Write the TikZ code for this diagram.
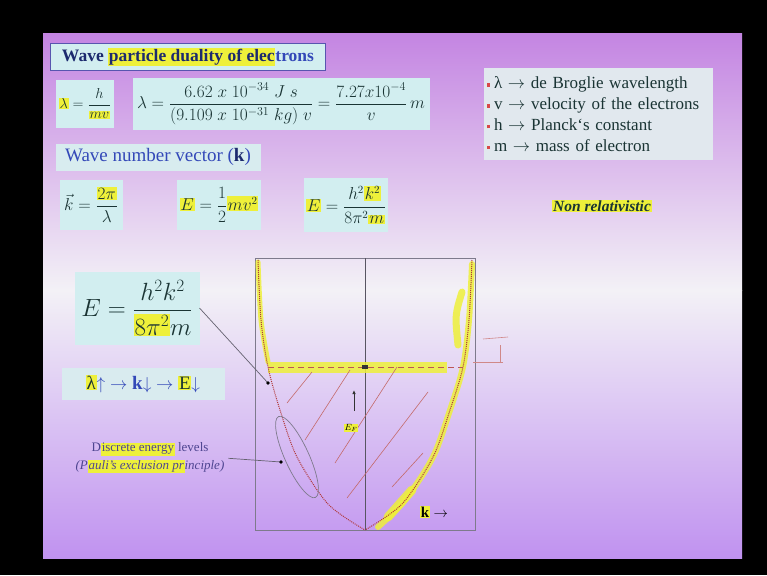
\documentclass[tikz,border=0pt]{standalone}
\usepackage{fontspec}
\setmainfont{Liberation Serif}
\usepackage{amsmath}
\usetikzlibrary{arrows.meta,positioning,calc}
\definecolor{slidetop}{HTML}{C485E2}
\definecolor{slidemid}{HTML}{F3F1F6}
\definecolor{slidebot}{HTML}{C092F0}
\definecolor{boxcyan}{HTML}{D2EEF0}
\definecolor{listgrey}{HTML}{E1E8EE}
\definecolor{navytxt}{HTML}{1C2A6E}
\definecolor{bluetxt}{HTML}{3348B8}
\definecolor{formtxt}{HTML}{1A3434}
\definecolor{hlyellow}{HTML}{EEF03A}
\definecolor{bulred}{HTML}{D84848}
\definecolor{curvered}{HTML}{B03838}
\definecolor{axisgrey}{HTML}{7E7A8C}
\newcommand\hl[1]{{\setlength{\fboxsep}{0.8pt}\colorbox{hlyellow}{#1}}}
\newcommand\bul{\textcolor{bulred}{\rule[0.25ex]{3.5pt}{3.5pt}}\hspace{4pt}}

\begin{document}
\begin{tikzpicture}[x=1pt,y=-1pt,every node/.style={inner sep=0pt,outer sep=0pt,align=center},
  box/.style={fill=boxcyan},
  curve/.style={curvered,densely dotted,line width=1pt},
  hlpen/.style={hlyellow,line cap=round,opacity=0.85},
  hatch/.style={curvered!75,line width=0.6pt},
  pointer/.style={axisgrey!80!black,line width=0.7pt}]
% slide
\fill[black] (0,0) rectangle (767,575);
\useasboundingbox (0,0) rectangle (767,575);
\shade[top color=slidetop,bottom color=slidemid] (43,34) rectangle (742,290);
\shade[top color=slidemid,bottom color=slidebot] (43,290) rectangle (742,558);
% header and formula boxes
\node[box,draw=axisgrey!70!blue,line width=1pt,minimum width=275,minimum height=27,font=\fontsize{17.5}{19}\selectfont\bfseries] (title) at (188,57)
  {\textcolor{navytxt}{Wave \hl{particle duality of elec}}\textcolor{bluetxt}{trons}};
\node[box,minimum width=58,minimum height=48,text=formtxt,font=\fontsize{15}{17}\selectfont] (lam) at (85,104)
  {$\hl{$\lambda$} = \dfrac{h}{\hl{$mv$}}$};
\node[box,minimum width=297,minimum height=52,text=formtxt,font=\fontsize{17}{19}\selectfont] (lamval) at (281,104)
  {$\lambda = \dfrac{6.62\;x\;10^{-34}\;J\;s}{(9.109\;x\;10^{-31}\;kg)\;v} = \dfrac{7.27x10^{-4}}{v}\,m$};
\node[fill=listgrey,minimum width=229,minimum height=91,text width=223,align=left,text=formtxt,font=\fontsize{17}{20.8}\selectfont] (legend) at (598,114)
  {\bul λ $\rightarrow$ de Broglie wavelength\\
   \bul v $\rightarrow$ velocity of the electrons\\
   \bul h $\rightarrow$ Planck`s constant\\
   \bul m $\rightarrow$ mass of electron};
\node[box,fill=boxcyan!60!listgrey,minimum width=205,minimum height=27,font=\fontsize{19}{21}\selectfont] (wavenum) at (158,157)
  {\textcolor{bluetxt}{Wave number vector (\textcolor{navytxt}{\textbf{k}})}};
\node[box,minimum width=63,minimum height=50,text=formtxt,font=\fontsize{16}{18}\selectfont] (kvec) at (91,205)
  {$\vec{k} = \dfrac{\hl{$2\pi$}}{\lambda}$};
\node[box,minimum width=84,minimum height=50,text=formtxt,font=\fontsize{16}{18}\selectfont] (ekin) at (219,205)
  {$\hl{$E$} = \dfrac{1}{2}\hl{$mv^2$}$};
\node[box,minimum width=84,minimum height=54,text=formtxt,font=\fontsize{16}{18}\selectfont] (ek) at (346,205)
  {$\hl{$E$} = \dfrac{h^2\hl{$k^2$}}{8\pi^2\hl{$m$}}$};
\node[font=\bfseries\itshape\fontsize{15.5}{17}\selectfont,text=formtxt] (nonrel) at (602,206) {\hl{Non relativistic}};
\node[box,minimum width=125,minimum height=73,text=formtxt,font=\fontsize{25}{28}\selectfont] (bigE) at (137,308)
  {$E = \dfrac{h^2k^2}{\hl{$8\pi^2$}m}$};
\node[box,fill=boxcyan!50!listgrey,minimum width=163,minimum height=32,font=\fontsize{19}{21}\selectfont] (chain) at (143,384)
  {\textcolor{formtxt}{\hl{λ}}\textcolor{bluetxt}{$\uparrow\;\rightarrow\;$\textbf{k}$\downarrow\;\rightarrow\;$}\textcolor{formtxt}{\hl{E}}\textcolor{bluetxt}{$\downarrow$}};
\node[font=\fontsize{13}{18}\selectfont,text=navytxt!70!slidetop] (disc) at (150,458)
  {D\hl{iscrete energy} levels\\{\itshape(P\hl{auli's exclusion pr}inciple)}};
% E(k) plot
\draw[axisgrey,line width=0.6pt] (255,258) rectangle (475,530);
\draw[axisgrey!70!black,line width=0.6pt] (365,258) -- (365,530);
\draw[hlpen,line width=5pt] plot[smooth] coordinates {(258,262) (261,320) (268,362)};
\draw[hlpen,line width=11pt,line cap=butt] (268,367) -- (447,367);
\draw[hlpen,line width=6pt] plot[smooth] coordinates {(472,264) (469,320) (463,367) (450,410) (433,457) (405,500) (378,527)};
\draw[hlpen,line width=7pt] (462,292) .. controls (455,315) .. (458,345);
\draw[hlpen,line width=9pt] (412,490) -- (388,517);
\draw[curve] plot[smooth] coordinates {(258,260) (261,320) (268,367) (280,410) (297,457) (328,504) (365,530)};
\draw[curve] plot[smooth] coordinates {(472,260) (469,320) (463,367) (450,410) (433,457) (402,504) (365,530)};
\draw[curvered!85,line width=0.8pt,dash pattern=on 6pt off 4pt] (268,367) -- (463,367);
\fill[black!80] (362,365) rectangle (368,369);
\foreach \a/\b in {{(287,403)}/{(312,372)},{(305,440)}/{(350,370)},{(335,463)}/{(397,367)},{(347,498)}/{(428,392)},{(392,487)}/{(423,453)}}
  \draw[hatch] \a -- \b;
\draw[axisgrey,line width=0.7pt,rotate around={24.5:(297,457)}] (297,457) ellipse [x radius=12,y radius=44.5];
% Fermi level marks
\coordinate (arrtail) at (354,411);
\coordinate (arrhead) at (354,390);
\draw[black!80,line width=0.8pt,-{Latex[length=4pt,width=3.5pt]}] (arrtail) -- (arrhead);
\node[font=\fontsize{9}{10}\selectfont] (ef) at (351,428) {\hl{$E_F$}};
\draw[curvered!60,line width=0.6pt] (483,339) -- (508,337);
\draw[curvered!60,line width=0.6pt] (500,345) -- (500,362);
\draw[curvered!60,line width=0.6pt] (473,362) -- (503,362);
\node[font=\fontsize{15}{16}\selectfont\bfseries] (kaxis) at (434,512) {\hl{k} $\rightarrow$};
% pointers
\coordinate (onE) at (268,383);
\coordinate (onell) at (281,462);
\draw[pointer] (bigE.east) -- (onE);
\fill[black] (onE) circle (1.8);
\draw[pointer,shorten <=4pt] (disc.east) -- (onell);
\fill[black] (onell) circle (1.8);
\end{tikzpicture}
\end{document}
